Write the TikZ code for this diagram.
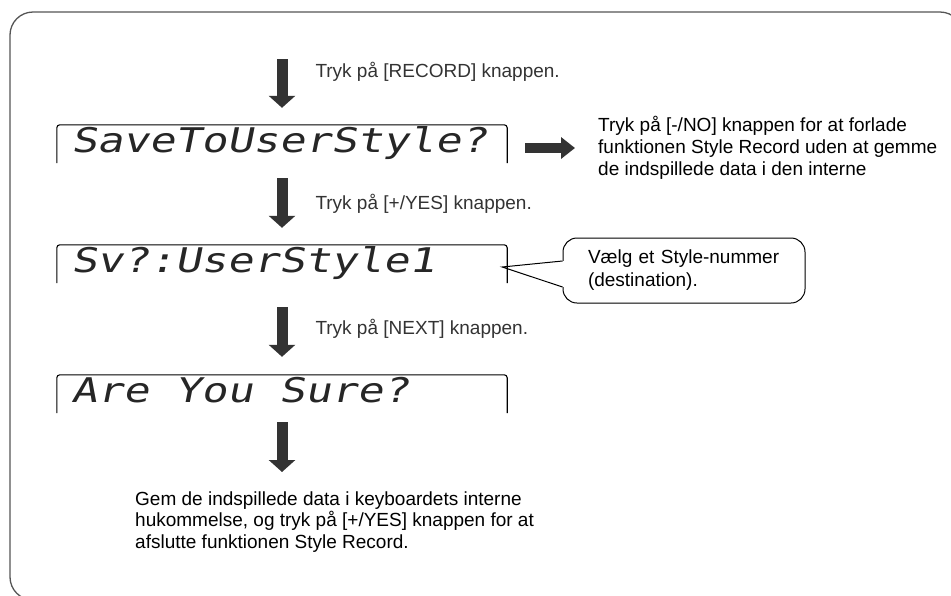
\documentclass[tikz,border=0pt]{standalone}
\usepackage{fontspec}
\setmainfont{Liberation Sans}
\newfontfamily\lcdfont{DejaVu Sans Mono}[FakeStretch=1.27, FakeSlant=0.2]
\newcommand{\lcdgap}{\hspace*{26pt}}
\usepackage{xcolor}
\definecolor{arrowgray}{RGB}{51,51,51}
\definecolor{framegray}{RGB}{85,85,85}
\usetikzlibrary{arrows.meta, positioning, calc}

\begin{document}
\begin{tikzpicture}[x=1pt, y=-1pt,
  lcd/.style={text width=422pt, inner xsep=14pt, inner ysep=0pt, minimum height=38pt,
              text height=25pt, text depth=8pt, align=left, text=black!85,
              font=\lcdfont\fontsize{34}{34}\selectfont},
  lcdframe/.style={draw=black, line width=1.1pt, rounded corners=3pt},
  bigarrow/.style={arrowgray, line width=11pt, -{Triangle[width=26pt, length=12pt]}},
  sidearrow/.style={arrowgray, line width=10pt, -{Triangle[width=21pt, length=14pt]}},
  steplabel/.style={anchor=west, xshift=28pt, inner sep=0pt, font=\fontsize{19}{21}\selectfont},
  note/.style={anchor=west, inner sep=0pt, align=left, font=\fontsize{19}{21.7}\selectfont},
  bubble/.style={draw=black, line width=1pt, fill=white, rounded corners=14pt,
                 minimum width=242pt, minimum height=65pt, text width=192pt, inner xsep=25pt,
                 align=left, font=\fontsize{19}{23}\selectfont}]

\useasboundingbox (0,0) rectangle (951,595);

% Outer frame
\draw[framegray, line width=1.3pt, rounded corners=23pt] (10,12) rectangle (963,600);

% Display messages
\node[lcd] (lcd1) at (282,144) {SaveToUserStyle?};
\node[lcd] (lcd2) at (282,264) {Sv?:UserStyle1};
\node[lcd] (lcd3) at (282,394) {Are\lcdgap You\lcdgap Sure?};

% Side note for [-/NO]
\node[note] (nobox) at (598,148) {Tryk på [-/NO] knappen for at forlade\\funktionen Style Record uden at gemme\\de indspillede data i den interne};

% Callout for the style number
\node[bubble] (pick) at (684,270.5) {Vælg et Style-nummer\\(destination).};
\coordinate (sv) at ($(lcd2.east)+(-5,3)$);
\fill[white] ($(pick.west)+(1.5,-9.5)$) -- (sv) -- ($(pick.west)+(1.5,16.5)$) -- cycle;
\draw[line width=1pt] ($(pick.west)+(0,-9.5)$) -- (sv) -- ($(pick.west)+(0,16.5)$);

% Display frames, open at the bottom
\draw[lcdframe] (lcd1.south west) -- (lcd1.north west) -- (lcd1.north east) -- (lcd1.south east);
\draw[lcdframe] (lcd2.south west) -- (lcd2.north west) -- (lcd2.north east) -- (lcd2.south east);
\draw[lcdframe] (lcd3.south west) -- (lcd3.north west) -- (lcd3.north east) -- (lcd3.south east);

% Step arrows
\coordinate (begin) at (282,59);
\draw[bigarrow, shorten >=17pt] (begin) -- (lcd1)
  node[steplabel, pos=0.2] (rec) {Tryk på [RECORD] knappen.};
\draw[bigarrow, shorten <=15pt, shorten >=17pt] (lcd1) -- (lcd2)
  node[steplabel, pos=0.5] (yes) {Tryk på [+/YES] knappen.};
\draw[bigarrow, shorten <=24pt, shorten >=18pt] (lcd2) -- (lcd3)
  node[steplabel, pos=0.5] (next) {Tryk på [NEXT] knappen.};
\coordinate (done) at (282,472);
\draw[bigarrow, shorten <=9pt] (lcd3) -- (done);

% Arrow to the [-/NO] note
\draw[sidearrow, shorten <=18pt, shorten >=23pt] ($(lcd1.east)+(0,4)$) -- ($(nobox.west |- lcd1.east)+(0,4)$);

% Closing text
\node[note] (savebox) at (135,522) {Gem de indspillede data i keyboardets interne\\hukommelse, og tryk på [+/YES] knappen for at\\afslutte funktionen Style Record.};

\end{tikzpicture}
\end{document}
